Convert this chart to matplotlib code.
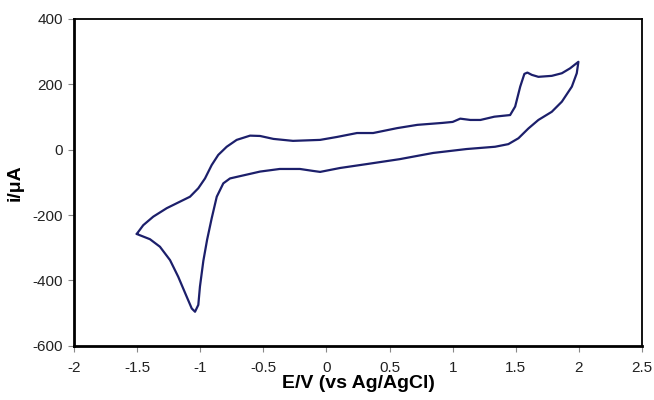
import numpy as np
import matplotlib.pyplot as plt

plt.rcParams['font.family'] = ['Liberation Sans', 'DejaVu Sans']

# anodic sweep, -1.5 V -> 2.0 V
E_fwd = [-1.503, -1.451, -1.372, -1.265, -1.160, -1.081, -1.015, -0.962, -0.909, -0.857,
         -0.790, -0.711, -0.605, -0.526, -0.42, -0.265, -0.05, 0.084, 0.242, 0.37,
         0.56, 0.72, 0.92, 1.00, 1.06, 1.14, 1.22, 1.33, 1.455, 1.495,
         1.535, 1.568, 1.592, 1.627, 1.679, 1.785, 1.865, 1.930, 1.996]
i_fwd = [-258, -231, -205, -179, -159, -144, -118, -88, -47, -16,
         9, 30, 43, 42, 33, 27, 30, 39, 51, 51,
         66, 76, 82, 85, 95, 91, 91, 101, 106, 132,
         193, 232, 236, 229, 223, 226, 234, 249, 269]

# cathodic sweep, 2.0 V -> -1.5 V
E_rev = [1.996, 1.983, 1.944, 1.865, 1.785, 1.679, 1.60, 1.521, 1.441, 1.336,
         1.11, 0.845, 0.58, 0.32, 0.108, -0.05, -0.106, -0.21, -0.37, -0.526,
         -0.605, -0.685, -0.764, -0.817, -0.869, -0.909, -0.945, -0.975, -1.002, -1.015,
         -1.041, -1.067, -1.107, -1.174, -1.239, -1.319, -1.398, -1.503]
i_rev = [269, 234, 193, 147, 116, 91, 65, 35, 17, 9,
         2, -10, -29, -44, -56, -68, -65, -59, -59, -67,
         -74, -81, -88, -103, -144, -210, -275, -340, -419, -475,
         -496, -486, -450, -389, -338, -297, -274, -258]

E = np.array(E_fwd + E_rev[1:])
i = np.array(i_fwd + i_rev[1:])

fig = plt.figure(figsize=(6.54, 4.0), dpi=100)
ax = fig.add_axes([0.1131, 0.1357, 0.8686, 0.8168])
ax.plot(E, i, color='#1c1f6b', lw=1.6, solid_joinstyle='round', solid_capstyle='round')

ax.set_xlim(-2, 2.5)
ax.set_ylim(-600, 400)
xt = np.arange(-2, 2.51, 0.5)
ax.set_xticks(xt)
ax.set_xticklabels(['-2', '-1.5', '-1', '-0.5', '0', '0.5', '1', '1.5', '2', '2.5'])
yt = np.arange(-600, 401, 200)
ax.set_yticks(yt)
ax.set_yticklabels([str(v) for v in yt])

for s in ['left', 'bottom']:
    ax.spines[s].set_linewidth(2.0)
for s in ['top', 'right']:
    ax.spines[s].set_linewidth(1.3)

ax.tick_params(axis='both', direction='out', length=4, width=0.8,
               color='#888888', labelsize=11, labelcolor='#222222')
ax.tick_params(axis='x', pad=7)
ax.tick_params(axis='y', pad=4)

ax.set_xlabel('E/V (vs Ag/AgCl)', fontsize=14, fontweight='bold', labelpad=0)
ax.set_ylabel('i/μA', fontsize=14, fontweight='bold', labelpad=6)

fig.savefig('out.png', dpi=100)
